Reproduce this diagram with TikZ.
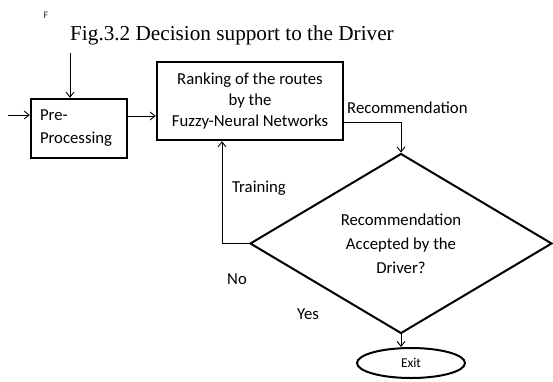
\documentclass[tikz,border=0pt]{standalone}
\usepackage{fontspec}
\setmainfont{Carlito}
\newfontfamily\titlefont{Liberation Serif}
\usetikzlibrary{arrows.meta,shapes.geometric}
\tikzset{
  box/.style={draw, line width=2.4bp, inner sep=0pt, font=\fontsize{16.8}{21}\selectfont},
  decision/.style={draw, diamond, line width=2bp, inner sep=0pt, align=center,
    minimum width=302bp, minimum height=157bp, font=\fontsize{16.8}{24}\selectfont},
  term/.style={draw, ellipse, line width=2bp, inner sep=0pt, minimum width=108bp,
    minimum height=30bp, font=\fontsize{13.5}{16}\selectfont},
  lbl/.style={inner sep=0pt, font=\fontsize{16.8}{21}\selectfont},
  arr/.style={line width=0.9bp, -{Straight Barb[length=5bp,width=8bp]}},
  conn/.style={line width=0.9bp}
}
\begin{document}
\begin{tikzpicture}[x=1bp,y=-1bp]
\useasboundingbox (0,0) rectangle (553,381);
\node[inner sep=0pt, font=\fontsize{10}{11}\selectfont, text=black!85] (mark) at (46,15) {F};
\node[inner sep=0pt, anchor=base west, font=\titlefont\fontsize{21.3}{24}\selectfont] (title) at (70,40) {Fig.3.2 Decision support to the Driver};
\node[box, minimum width=96bp, minimum height=59bp, text width=78bp, align=left] (pre) at (79,128.5) {Pre-\\[2bp]Processing};
\node[box, minimum width=186bp, minimum height=78bp, align=center] (rank) at (250,101) {Ranking of the routes\\by the\\Fuzzy-Neural Networks};
\node[decision] (dia) at (401,243.5) {Recommendation\\Accepted by the\\Driver?};
\node[term] (exit) at (411,363) {Exit};
\node[lbl, anchor=west] (rec) at (347,108) {Recommendation};
\node[lbl] (train) at (259,188) {Training};
\node[lbl] (no) at (237,279) {No};
\node[lbl] (yes) at (308,314) {Yes};
\coordinate (in1) at (8,115);
\coordinate (intop) at (70,53);
\draw[arr] (in1) -- (in1 -| pre.west);
\draw[arr] (intop) -- (intop |- pre.north);
\path ([yshift=12.5bp]pre.east) coordinate (p1);
\draw[arr] (p1) -- (p1 -| rank.west);
\path ([yshift=-21bp]rank.east) coordinate (r1);
\draw[arr] (r1) -| (dia.north);
\draw[arr] (dia.west) -| ([xshift=-28bp]rank.south);
\draw[arr] (dia.south) -- (dia.south |- exit.north);
\end{tikzpicture}
\end{document}
